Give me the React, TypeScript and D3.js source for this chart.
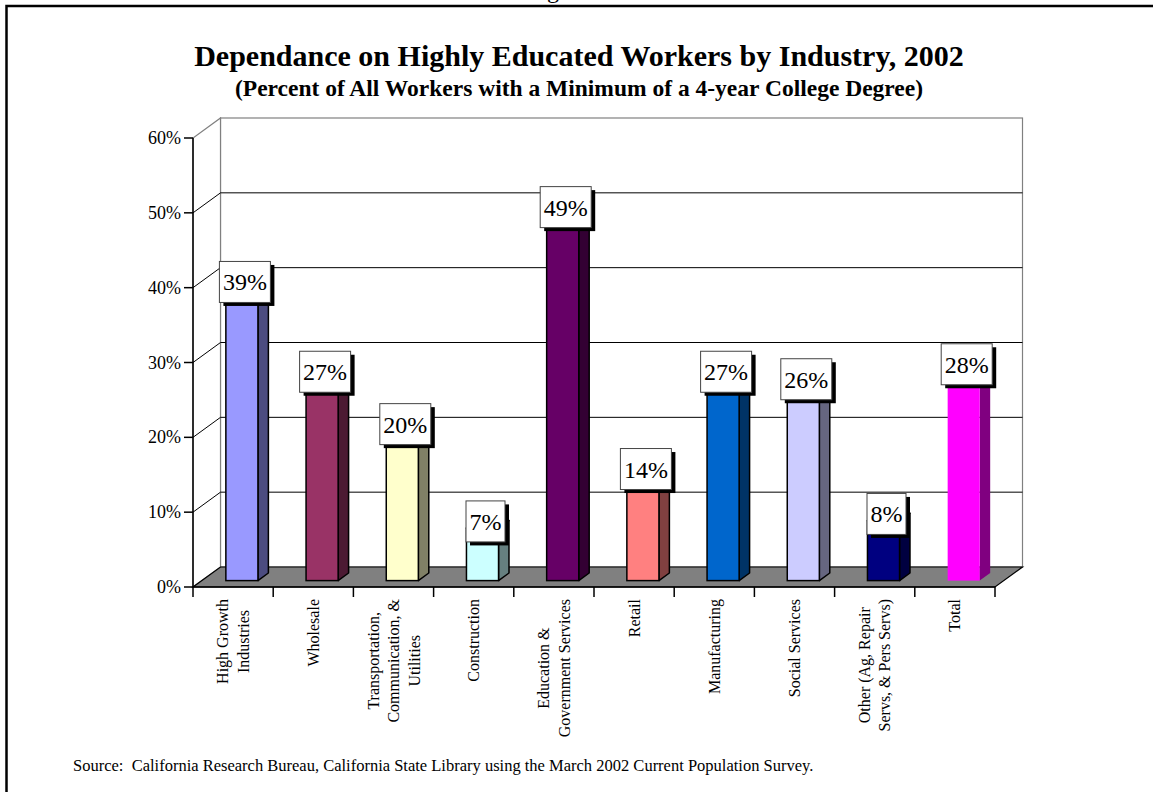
import React, { useRef, useEffect } from "react";
import * as d3 from "d3";

const categories = [
  "High Growth Industries",
  "Wholesale",
  "Transportation, Communication, & Utilities",
  "Construction",
  "Education & Government Services",
  "Retail",
  "Manufacturing",
  "Social Services",
  "Other (Ag, Repair Servs, & Pers Servs)",
  "Total",
];
const categoryLines = [
  ["High Growth", "Industries"],
  ["Wholesale"],
  ["Transportation,", "Communication, &", "Utilities"],
  ["Construction"],
  ["Education &", "Government Services"],
  ["Retail"],
  ["Manufacturing"],
  ["Social Services"],
  ["Other (Ag, Repair", "Servs, & Pers Servs)"],
  ["Total"],
];
const values = [39, 27, 20, 7, 49, 14, 27, 26, 8, 28];
const frontColors = ["#9999ff", "#993366", "#ffffcc", "#ccffff", "#660066", "#ff8080", "#0066cc", "#ccccff", "#000080", "#ff00ff"];
const sideColors = ["#4c4c80", "#4c1a33", "#808066", "#668080", "#330033", "#804040", "#003366", "#666680", "#000040", "#800080"];
const outlined = [true, true, true, true, true, true, true, true, true, false];
const yTicks = [0, 10, 20, 30, 40, 50, 60];

const title = "Dependance on Highly Educated Workers by Industry, 2002";
const subtitle = "(Percent of All Workers with a Minimum of a 4-year College Degree)";
const source = "Source:  California Research Bureau, California State Library using the March 2002 Current Population Survey.";

export default function App() {
  const svgRef = useRef<SVGSVGElement>(null);

  useEffect(() => {
    if (!svgRef.current) return;
    const svg = d3.select(svgRef.current);
    svg.selectAll("*").remove();

    const serif = "'Liberation Serif', 'Times New Roman', serif";
    const x0 = 193, x1 = 995;
    const dx = 27.5, dy = -20; // depth offset of the back wall
    const f1 = 0.32, f2 = 0.7; // bar front / back depth fractions

    const y = d3.scaleLinear().domain([0, 60]).range([587, 138]);
    const x = d3.scaleBand<string>().domain(categories).range([x0, x1]).paddingInner(0.6).paddingOuter(0.3);
    const step = x.step();
    const bw = x.bandwidth();

    // clipped heading above the frame
    svg.append("text").attr("x", 527).attr("y", -2)
      .attr("font-family", serif).attr("font-size", 24).text("Figure");

    // frame
    svg.append("rect").attr("x", 6.5).attr("y", 6).attr("width", 1170).attr("height", 820)
      .attr("fill", "none").attr("stroke", "#000").attr("stroke-width", 2.5);

    // titles
    svg.append("text").attr("x", 579).attr("y", 66).attr("text-anchor", "middle")
      .attr("font-family", serif).attr("font-weight", "bold").attr("font-size", 30).text(title);
    svg.append("text").attr("x", 579).attr("y", 96).attr("text-anchor", "middle")
      .attr("font-family", serif).attr("font-weight", "bold").attr("font-size", 23.5).text(subtitle);

    const g = svg.append("g");

    // back wall
    g.append("rect")
      .attr("x", x0 + dx).attr("y", y(60) + dy)
      .attr("width", x1 - x0).attr("height", y(0) - y(60))
      .attr("fill", "#fff").attr("stroke", "#808080").attr("stroke-width", 1.2);
    // side wall
    g.append("path")
      .attr("d", `M${x0},${y(0)}L${x0},${y(60)}L${x0 + dx},${y(60) + dy}L${x0 + dx},${y(0) + dy}Z`)
      .attr("fill", "#fff").attr("stroke", "#808080").attr("stroke-width", 1.2);

    // gridlines
    g.selectAll(".grid").data(yTicks.filter((t) => t > 0 && t < 60)).enter().append("path")
      .attr("d", (t) => `M${x0},${y(t)}L${x0 + dx},${y(t) + dy}L${x1 + dx},${y(t) + dy}`)
      .attr("fill", "none").attr("stroke", "#000").attr("stroke-width", 1);

    // floor
    g.append("path")
      .attr("d", `M${x0},${y(0)}L${x1},${y(0)}L${x1 + dx},${y(0) + dy}L${x0 + dx},${y(0) + dy}Z`)
      .attr("fill", "#808080").attr("stroke", "#000").attr("stroke-width", 1.2);

    // y axis
    g.append("line").attr("x1", x0).attr("x2", x0).attr("y1", y(0)).attr("y2", y(60))
      .attr("stroke", "#000").attr("stroke-width", 1.5);
    g.selectAll(".ytick").data(yTicks).enter().append("line")
      .attr("x1", x0 - 9).attr("x2", x0).attr("y1", (t) => y(t)).attr("y2", (t) => y(t))
      .attr("stroke", "#000").attr("stroke-width", 1.5);
    g.selectAll(".ylab").data(yTicks).enter().append("text")
      .attr("x", x0 - 12).attr("y", (t) => y(t) + 6).attr("text-anchor", "end")
      .attr("font-family", serif).attr("font-size", 18).text((t) => `${t}%`);

    // x axis
    g.append("line").attr("x1", x0).attr("x2", x1).attr("y1", y(0)).attr("y2", y(0))
      .attr("stroke", "#000").attr("stroke-width", 1.5);
    g.selectAll(".xtick").data(d3.range(categories.length + 1)).enter().append("line")
      .attr("x1", (i) => x0 + i * step).attr("x2", (i) => x0 + i * step)
      .attr("y1", y(0)).attr("y2", y(0) + 10)
      .attr("stroke", "#000").attr("stroke-width", 1.5);

    // bars
    const ddx = dx * (f2 - f1), ddy = dy * (f2 - f1);
    categories.forEach((c, i) => {
      const bx = (x(c) as number) + dx * f1;
      const bottom = y(0) + dy * f1;
      const top = y(values[i]) + dy * f1;
      const stroke = outlined[i] ? "#000" : "none";
      const bar = g.append("g");
      bar.append("path")
        .attr("d", `M${bx + bw},${bottom}L${bx + bw + ddx},${bottom + ddy}L${bx + bw + ddx},${top + ddy}L${bx + bw},${top}Z`)
        .attr("fill", sideColors[i]).attr("stroke", stroke).attr("stroke-width", 1.5).attr("stroke-linejoin", "round");
      bar.append("path")
        .attr("d", `M${bx},${top}L${bx + ddx},${top + ddy}L${bx + bw + ddx},${top + ddy}L${bx + bw},${top}Z`)
        .attr("fill", frontColors[i]).attr("stroke", stroke).attr("stroke-width", 1.5).attr("stroke-linejoin", "round");
      bar.append("rect")
        .attr("x", bx).attr("y", top).attr("width", bw).attr("height", bottom - top)
        .attr("fill", frontColors[i]).attr("stroke", stroke).attr("stroke-width", 1.5);
    });

    // value labels
    categories.forEach((c, i) => {
      const bx = (x(c) as number) + dx * f1;
      const top = y(values[i]) + dy * f1;
      const cx = bx + bw / 2 + 3;
      const cy = top + ddy / 2 - 3;
      const lab = g.append("g");
      const sh = lab.append("rect");
      const box = lab.append("rect");
      const txt = lab.append("text").attr("x", cx).attr("y", cy + 8.5).attr("text-anchor", "middle")
        .attr("font-family", serif).attr("font-size", 24).text(`${values[i]}%`);
      const tw = (txt.node() as SVGTextElement).getComputedTextLength();
      const w = tw + 7, h = 41;
      sh.attr("x", cx - w / 2 + 4).attr("y", cy - h / 2 + 3.5).attr("width", w).attr("height", h).attr("fill", "#000");
      box.attr("x", cx - w / 2).attr("y", cy - h / 2).attr("width", w).attr("height", h)
        .attr("fill", "#fff").attr("stroke", "#444").attr("stroke-width", 1);
    });

    // category labels (rotated, center-aligned lines, block starts at the top)
    categories.forEach((c, i) => {
      const lines = categoryLines[i];
      const cxc = x0 + (i + 0.5) * step;
      const lg = g.append("g").attr("transform", `rotate(-90)`);
      const nodes = lines.map((ln, k) =>
        lg.append("text").attr("text-anchor", "middle")
          .attr("font-family", serif).attr("font-size", 16)
          .attr("y", cxc + (k - (lines.length - 1) / 2) * 20.5 + 5.5)
          .text(ln)
      );
      const maxW = d3.max(nodes, (n) => (n.node() as SVGTextElement).getComputedTextLength()) || 0;
      nodes.forEach((n) => n.attr("x", -(599 + maxW / 2)));
    });

    // source
    svg.append("text").attr("x", 73).attr("y", 771).style("white-space", "pre")
      .attr("font-family", serif).attr("font-size", 16.5).text(source);
  }, []);

  return (
    <svg
      ref={svgRef}
      width={1153}
      height={792}
      style={{ position: "absolute", left: 0, top: 0, background: "#fff" }}
    />
  );
}
